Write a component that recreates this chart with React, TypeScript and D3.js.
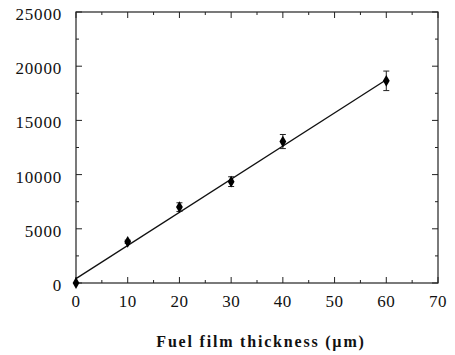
import React, { useEffect, useRef } from "react";
import * as d3 from "d3";

// film thickness (um) vs. measured value
const thickness = [0, 10, 20, 30, 40, 60];
const values = [0, 3800, 7000, 9350, 13050, 18650];
const errors = [0, 150, 400, 450, 650, 900];
const fitLine = [
  [0, 400],
  [60, 18750],
];
const xTicks = [0, 10, 20, 30, 40, 50, 60, 70];
const yTicks = [0, 5000, 10000, 15000, 20000, 25000];

const App: React.FC = () => {
  const svgRef = useRef<SVGSVGElement | null>(null);

  useEffect(() => {
    const W = 455,
      H = 355;
    const margin = { top: 12, right: 17, bottom: 72, left: 76 };
    const width = W - margin.left - margin.right,
      height = H - margin.top - margin.bottom;

    const svg = d3.select(svgRef.current).attr("width", W).attr("height", H);
    svg.selectAll("*").remove();

    const x = d3.scaleLinear().domain([0, 70]).range([0, width]);
    const y = d3.scaleLinear().domain([0, 25000]).range([height, 0]);

    const g = svg
      .append("g")
      .attr("transform", `translate(${margin.left},${margin.top})`);

    // frame
    g.append("rect")
      .attr("width", width)
      .attr("height", height)
      .attr("fill", "none")
      .attr("stroke", "#222")
      .attr("stroke-width", 1.2);

    const xMinor = d3.range(5, 70, 10);
    const yMinor = d3.range(2500, 25000, 5000);

    // ticks inward on all four sides
    const tickG = g.append("g").attr("stroke", "#222").attr("stroke-width", 1);
    xTicks.forEach((t) => {
      tickG.append("line").attr("x1", x(t)).attr("x2", x(t)).attr("y1", height).attr("y2", height - 6);
      tickG.append("line").attr("x1", x(t)).attr("x2", x(t)).attr("y1", 0).attr("y2", 6);
    });
    xMinor.forEach((t) => {
      tickG.append("line").attr("x1", x(t)).attr("x2", x(t)).attr("y1", height).attr("y2", height - 3);
      tickG.append("line").attr("x1", x(t)).attr("x2", x(t)).attr("y1", 0).attr("y2", 3);
    });
    yTicks.forEach((t) => {
      tickG.append("line").attr("x1", 0).attr("x2", 6).attr("y1", y(t)).attr("y2", y(t));
      tickG.append("line").attr("x1", width).attr("x2", width - 6).attr("y1", y(t)).attr("y2", y(t));
    });
    yMinor.forEach((t) => {
      tickG.append("line").attr("x1", 0).attr("x2", 3).attr("y1", y(t)).attr("y2", y(t));
      tickG.append("line").attr("x1", width).attr("x2", width - 3).attr("y1", y(t)).attr("y2", y(t));
    });

    const font = "'Liberation Serif', 'Times New Roman', serif";

    g.selectAll(".xl")
      .data(xTicks)
      .enter()
      .append("text")
      .attr("x", (d) => x(d))
      .attr("y", height + 24)
      .attr("text-anchor", "middle")
      .style("font-family", font)
      .style("font-size", "17px")
      .style("letter-spacing", "0.5px")
      .attr("fill", "#111")
      .text((d) => d);

    g.selectAll(".yl")
      .data(yTicks)
      .enter()
      .append("text")
      .attr("x", -14)
      .attr("y", (d) => y(d) + 2)
      .attr("dy", "0.35em")
      .attr("text-anchor", "end")
      .style("font-family", font)
      .style("font-size", "17px")
      .style("letter-spacing", "0.8px")
      .attr("fill", "#111")
      .text((d) => d);

    g.append("text")
      .attr("x", width / 2 + 4)
      .attr("y", height + 64)
      .attr("text-anchor", "middle")
      .style("font-family", font)
      .style("font-size", "16px")
      .style("font-weight", "bold")
      .style("letter-spacing", "1.8px")
      .attr("fill", "#111")
      .text("Fuel film thickness (\u00b5m)");

    // fit line
    const line = d3
      .line<number[]>()
      .x((d) => x(d[0]))
      .y((d) => y(d[1]));
    g.append("path")
      .datum(fitLine)
      .attr("d", line)
      .attr("fill", "none")
      .attr("stroke", "#111")
      .attr("stroke-width", 1.3);

    // error bars
    const eb = g.append("g").attr("stroke", "#222").attr("stroke-width", 1);
    thickness.forEach((t, i) => {
      if (errors[i] <= 0) return;
      const cx = x(t);
      const y0 = y(values[i] - errors[i]),
        y1 = y(values[i] + errors[i]);
      eb.append("line").attr("x1", cx).attr("x2", cx).attr("y1", y0).attr("y2", y1);
      eb.append("line").attr("x1", cx - 3).attr("x2", cx + 3).attr("y1", y0).attr("y2", y0);
      eb.append("line").attr("x1", cx - 3).attr("x2", cx + 3).attr("y1", y1).attr("y2", y1);
    });

    // diamond markers
    const sym = d3.symbol().type(d3.symbolDiamond).size(40);
    g.selectAll(".pt")
      .data(thickness)
      .enter()
      .append("path")
      .attr("d", sym)
      .attr("transform", (d, i) => `translate(${x(d)},${y(values[i])})`)
      .attr("fill", "#000");
  }, []);

  return (
    <svg
      ref={svgRef}
      style={{ position: "absolute", left: 0, top: 0, display: "block" }}
    ></svg>
  );
};

export default App;
